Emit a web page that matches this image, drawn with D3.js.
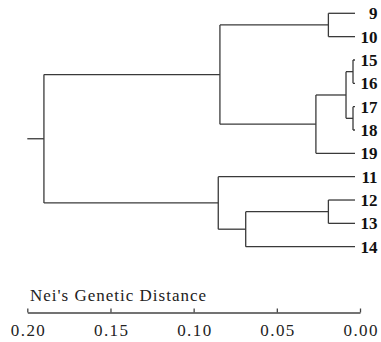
<!DOCTYPE html>
<html>
  <head>
    <meta charset="UTF-8" />
    <title>Nei's Genetic Distance dendrogram</title>
  </head>
  <body style="margin:0">
    <svg id="Tree"></svg>
    <script src="https://d3js.org/d3.v7.min.js"></script>
    <script>
      // leaves, top to bottom
      const leafNames = ['9', '10', '15', '16', '17', '18', '19', '11', '12', '13', '14'];

      // merge heights (Nei's distance)
      const nodeNames = ['n9_10', 'n15_16', 'n17_18', 'n15_18', 'n15_19', 'nA', 'n12_13', 'n12_14', 'nB', 'root'];
      const nodeHeights = [0.016, 0.0012, 0.0012, 0.0054, 0.0235, 0.0812, 0.016, 0.0657, 0.0822, 0.187];
      const nodeChildren = [
        ['9', '10'],
        ['15', '16'],
        ['17', '18'],
        ['n15_16', 'n17_18'],
        ['n15_18', '19'],
        ['n9_10', 'n15_19'],
        ['12', '13'],
        ['n12_13', '14'],
        ['11', 'n12_14'],
        ['nA', 'nB'],
      ];

      const axisTicks = [0.2, 0.15, 0.1, 0.05, 0];
      const axisTitle = "Nei's Genetic Distance";
      const serif = 'Liberation Serif';

      function getConfig() {
        let width = 381;
        let height = 342;
        let container = d3
          .select('#Tree')
          .attr('width', width)
          .attr('height', height)
          .style('display', 'block')
          .style('font-family', "'Liberation Serif', serif");
        return { width, height, container };
      }

      function getScales() {
        // axis and tree share the same distance per pixel, leaf tips stop a bit short of 0
        let xAxis = d3.scaleLinear().domain([0.2, 0]).range([27.3, 360]);
        let xTree = d3.scaleLinear().domain([0.2, 0]).range([22.3, 355]);
        let yScale = d3.scalePoint().domain(leafNames).range([13.3, 246.7]);
        return { xAxis, xTree, yScale };
      }

      function buildTree() {
        let byName = {};
        leafNames.forEach((n) => (byName[n] = { name: n, height: 0 }));
        nodeNames.forEach((n, i) => (byName[n] = { name: n, height: nodeHeights[i] }));
        nodeNames.forEach((n, i) => (byName[n].children = nodeChildren[i].map((c) => byName[c])));
        return d3.hierarchy(byName.root);
      }

      function drawTree(root, scales, config) {
        let { xTree, yScale } = scales;
        let { container } = config;

        // leaves get their row, inner nodes sit halfway between their children
        root.eachAfter((d) => {
          d.px = xTree(d.data.height);
          d.py = d.children ? d3.mean([d.children[0].py, d.children[d.children.length - 1].py]) : yScale(d.data.name);
        });

        let g = container.append('g');
        let path = root
          .descendants()
          .filter((d) => d.parent)
          .map((d) => `M${d.parent.px},${d.py}H${d.px}`)
          .concat(root.descendants().filter((d) => d.children).map((d) => `M${d.px},${d.children[0].py}V${d.children[d.children.length - 1].py}`));

        g.selectAll('path')
          .data(path)
          .enter()
          .append('path')
          .attr('d', (d) => d)
          .attr('fill', 'none')
          .attr('stroke', '#3a3a3a')
          .attr('stroke-width', 1.3);

        // root stub goes back to 0.20
        g.append('path')
          .attr('d', `M${scales.xAxis(0.2)},${root.py}H${root.px}`)
          .attr('stroke', '#3a3a3a')
          .attr('stroke-width', 1.3);

        g.selectAll('text')
          .data(root.leaves())
          .enter()
          .append('text')
          .attr('font-family', serif)
          .style('font-family', "'Liberation Serif'")
          .attr('x', 377.5)
          .attr('y', (d) => d.py)
          .attr('dy', '0.36em')
          .attr('text-anchor', 'end')
          .attr('font-weight', 'bold')
          .attr('font-size', 17)
          .attr('fill', '#111')
          .text((d) => d.data.name);
      }

      function drawAxis(scales, config) {
        let { xAxis } = scales;
        let { container } = config;
        let axis = d3
          .axisBottom(xAxis)
          .tickValues(axisTicks)
          .tickFormat(d3.format('.2f'))
          .tickSizeInner(-4)
          .tickSizeOuter(0)
          .tickPadding(11);

        let g = container.append('g').attr('transform', 'translate(0,312.5)').call(axis);
        g.attr('font-family', serif).attr('font-size', 17);
        g.select('.domain').attr('stroke', '#444').attr('stroke-width', 1.3);
        g.selectAll('.tick line').attr('stroke', '#444').attr('stroke-width', 1.3);
        g.selectAll('.tick text')
          .attr('font-family', serif)
          .style('font-family', "'Liberation Serif'")
          .attr('fill', '#222')
          .attr('dx', '0.7')
          .attr('letter-spacing', 1.4);

        container
          .append('text')
          .attr('x', 30)
          .attr('y', 301)
          .attr('font-family', serif)
          .style('font-family', "'Liberation Serif'")
          .attr('letter-spacing', 1)
          .attr('fill', '#222')
          .attr('font-size', 17)
          .text(axisTitle);
      }

      let config = getConfig();
      let scales = getScales();
      let tree = buildTree();
      drawTree(tree, scales, config);
      drawAxis(scales, config);
    </script>
  </body>
</html>
